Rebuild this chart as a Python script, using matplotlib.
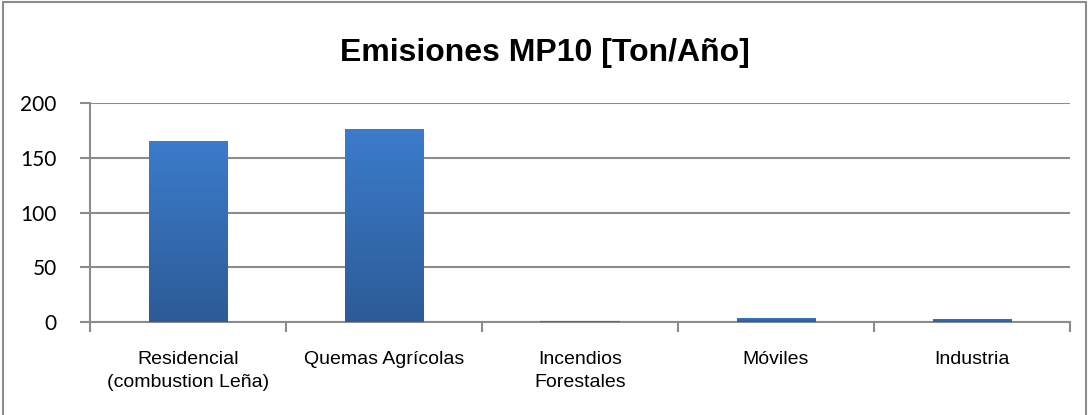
import numpy as np
import matplotlib.pyplot as plt
from matplotlib.patches import Rectangle
from matplotlib.colors import LinearSegmentedColormap

# Datos del grafico
categorias = ["Residencial\n(combustion Leña)", "Quemas Agrícolas",
              "Incendios\nForestales", "Móviles", "Industria"]
emisiones = [165, 176, 0.6, 3.8, 2.8]
y_ticks = [0, 50, 100, 150, 200]

fuente = "Liberation Sans"

fig = plt.figure(figsize=(10.89, 4.15), dpi=100)
ax = fig.add_axes([0.0826, 0.2241, 0.9, 0.5277])

x = np.arange(len(categorias))
bars = ax.bar(x, emisiones, width=0.40, color="#3470b5", zorder=3)

# Degradado vertical en las barras
grad = np.linspace(0, 1, 256).reshape(-1, 1)
cmap = LinearSegmentedColormap.from_list("g", ["#2c5b97", "#3b7ccb"])
for b in bars:
    bx, by = b.get_x(), b.get_y()
    w, h = b.get_width(), b.get_height()
    b.set_facecolor("none")
    b.set_edgecolor("none")
    im = ax.imshow(grad, extent=[bx, bx + w, by, by + h], origin="lower",
                   cmap=cmap, aspect="auto", zorder=3)
    im.set_clip_path(Rectangle((bx, by), w, h, transform=ax.transData))
    if h < 1.5:
        ax.plot([bx, bx + w], [h / 2, h / 2], color="#3470b5", lw=1.5, zorder=3)

ax.set_xlim(-0.5, len(categorias) - 0.5)
ax.set_ylim(0, 200)
ax.set_yticks(y_ticks)
ax.set_yticklabels([str(v) for v in y_ticks], fontsize=15, family="Lato")
ax.yaxis.grid(True, color="#8c8c8c", lw=1.5, zorder=1)

# Ticks del eje X en los limites de categoria, etiquetas al centro
ax.set_xticks(np.arange(-0.5, len(categorias), 1.0))
ax.set_xticklabels([])
ax.set_xticks(x, minor=True)
ax.set_xticklabels(categorias, minor=True, fontsize=14, family=fuente,
                   linespacing=1.45)
ax.tick_params(axis="x", which="minor", length=0, pad=21)
ax.tick_params(axis="x", which="major", length=7, width=1.5, color="#8c8c8c")
ax.tick_params(axis="y", length=7, width=1.5, color="#8c8c8c", pad=17)

for s in ["top", "right"]:
    ax.spines[s].set_visible(False)
for s in ["left", "bottom"]:
    ax.spines[s].set_color("#8c8c8c")
    ax.spines[s].set_linewidth(1.5)

fig.text(0.5, 0.873, "Emisiones MP10 [Ton/Año]", ha="center", va="center",
         fontsize=23, fontweight="bold", family=fuente)

# Borde del area del grafico
fig.patches.append(Rectangle((0.003, -0.01), 0.994, 1.005, transform=fig.transFigure,
                             fill=False, edgecolor="#8c8c8c", lw=1.5))

fig.savefig("out.png", dpi=100)
